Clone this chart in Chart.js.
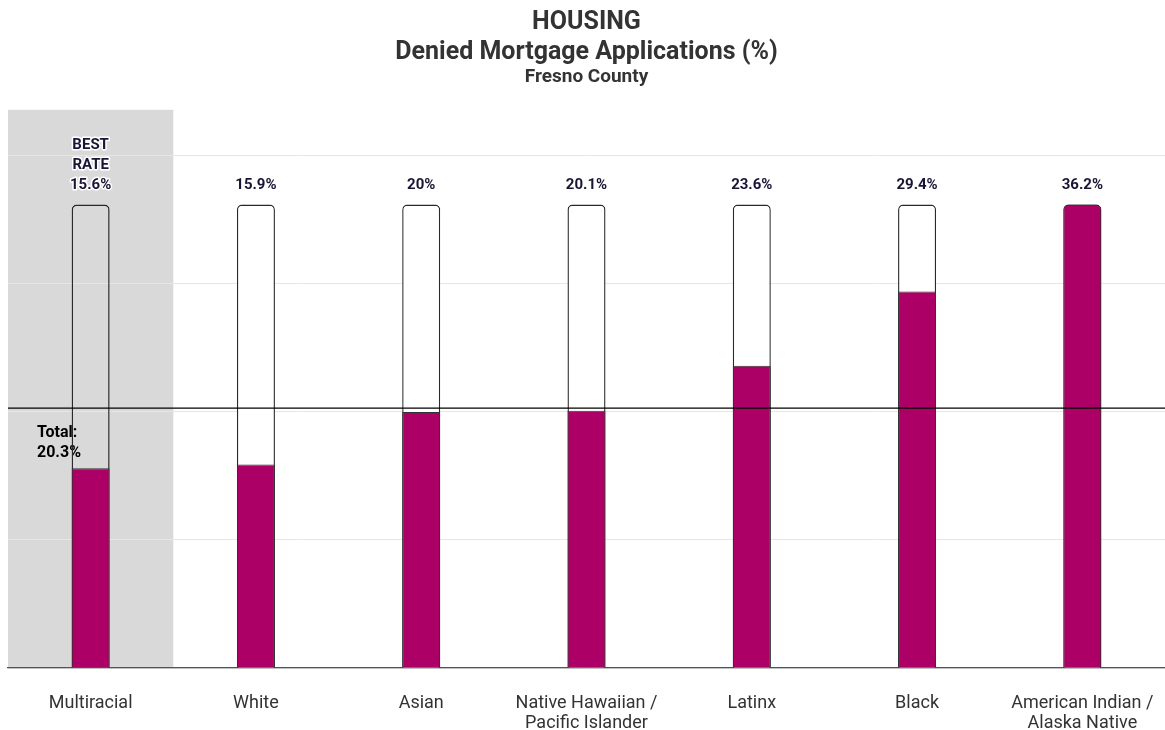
<!DOCTYPE html>
<html>
<head>
<meta charset="utf-8">
<script src="https://cdn.jsdelivr.net/npm/chart.js@4.4.1/dist/chart.umd.min.js"></script>
<style>
  html, body { margin: 0; padding: 0; background: #fff; overflow: hidden; }
  canvas { display: block; }
</style>
</head>
<body>
<canvas id="bar-chart" width="1165" height="730"></canvas>
<script>
const categories = [
    'Multiracial',
    'White',
    'Asian',
    ['Native Hawaiian /', 'Pacific Islander'],
    'Latinx',
    'Black',
    ['American Indian /', 'Alaska Native']
];
const denied = [15.6, 15.9, 20, 20.1, 23.6, 29.4, 36.2];
const frame = [36.2, 36.2, 36.2, 36.2, 36.2, 36.2, 36.2];
const total = 20.3;
const bestIndex = 0;
const gridTicks = [0, 10, 20, 30, 40];

const MAGENTA = '#ad0066';
const INK = '#1a1535';

// grey band behind the best-rate column, total line + value labels
const extras = {
    id: 'extras',
    beforeDraw(chart) {
        const { ctx, chartArea, scales: { x } } = chart;
        const half = (x.getPixelForValue(1) - x.getPixelForValue(0)) / 2;
        const cx = x.getPixelForValue(bestIndex);
        ctx.save();
        ctx.fillStyle = '#d9d9d9';
        ctx.fillRect(cx - half, chartArea.top, half * 2, chartArea.bottom - chartArea.top);
        ctx.restore();
    },
    beforeDatasetsDraw(chart) {
        const { ctx, chartArea, scales: { y } } = chart;
        const ty = y.getPixelForValue(total);
        ctx.save();
        ctx.fillStyle = '#000';
        ctx.font = 'bold 16px Roboto';
        ctx.textAlign = 'left';
        ctx.textBaseline = 'middle';
        ctx.fillText('Total:', chartArea.left + 29, ty + 25);
        ctx.fillText(total + '%', chartArea.left + 29, ty + 45);
        ctx.restore();
    },
    afterDatasetsDraw(chart) {
        const { ctx, chartArea, scales: { x, y } } = chart;
        const ty = y.getPixelForValue(total);
        ctx.save();
        ctx.strokeStyle = '#000';
        ctx.lineWidth = 1.3;
        ctx.beginPath();
        ctx.moveTo(chartArea.left, ty);
        ctx.lineTo(chartArea.right, ty);
        ctx.stroke();

        ctx.font = 'bold 15px Roboto';
        ctx.textAlign = 'center';
        ctx.textBaseline = 'middle';
        ctx.lineJoin = 'round';
        denied.forEach((v, i) => {
            const cx = x.getPixelForValue(i);
            const top = y.getPixelForValue(frame[i]) - 19;
            const lines = i === bestIndex ? ['BEST', 'RATE', v + '%'] : [v + '%'];
            lines.forEach((t, k) => {
                const ly = top - (lines.length - 1 - k) * 20;
                ctx.strokeStyle = '#fff';
                ctx.lineWidth = 3;
                ctx.strokeText(t, cx, ly);
                ctx.fillStyle = INK;
                ctx.fillText(t, cx, ly);
            });
        });
        ctx.restore();
    }
};

const maxVal = Math.max(...denied);

new Chart(document.getElementById('bar-chart'), {
    type: 'bar',
    plugins: [extras],
    data: {
        labels: categories,
        datasets: [
            {
                data: denied,
                backgroundColor: MAGENTA,
                borderColor: '#333',
                borderWidth: 1,
                borderSkipped: 'bottom',
                borderRadius: (c) => c.raw === maxVal ? { topLeft: 5, topRight: 5 } : 0,
                grouped: false,
                categoryPercentage: 1,
                barPercentage: 0.23,
                order: 0
            },
            {
                data: frame,
                backgroundColor: (c) => c.dataIndex === bestIndex ? 'rgba(0,0,0,0)' : '#fff',
                borderColor: '#2a2a2a',
                borderWidth: 1.4,
                borderSkipped: 'bottom',
                borderRadius: { topLeft: 5, topRight: 5 },
                grouped: false,
                categoryPercentage: 1,
                barPercentage: 0.23,
                order: 1
            }
        ]
    },
    options: {
        responsive: false,
        animation: false,
        layout: {
            padding: { left: 8, right: 0, top: 0, bottom: 0 }
        },
        plugins: {
            legend: { display: false },
            tooltip: { enabled: false },
            title: {
                display: true,
                text: ['HOUSING', 'Denied Mortgage Applications (%)'],
                color: '#333',
                font: { family: 'Roboto', size: 25, weight: 'bold', lineHeight: 1.2 },
                padding: { top: 8, bottom: 0 }
            },
            subtitle: {
                display: true,
                text: 'Fresno County',
                color: '#333',
                font: { family: 'Roboto', size: 19, weight: 'bold' },
                padding: { top: -2, bottom: 21 }
            }
        },
        scales: {
            x: {
                grid: { display: false },
                border: { color: '#555', width: 1.3 },
                afterFit: (axis) => {
                    axis.height = 62;
                    axis.paddingLeft = 0;
                    axis.paddingRight = 0;
                },
                ticks: {
                    color: '#333',
                    padding: 18,
                    font: { family: 'Roboto', size: 18, lineHeight: 1.1 },
                    maxRotation: 0,
                    autoSkip: false
                }
            },
            y: {
                min: 0,
                max: 43.6,
                afterBuildTicks: (axis) => {
                    axis.ticks = gridTicks.map(v => ({ value: v }));
                },
                grid: { color: '#e6e6e6', drawTicks: false },
                border: { display: false },
                ticks: { display: false }
            }
        }
    }
});
</script>
</body>
</html>
